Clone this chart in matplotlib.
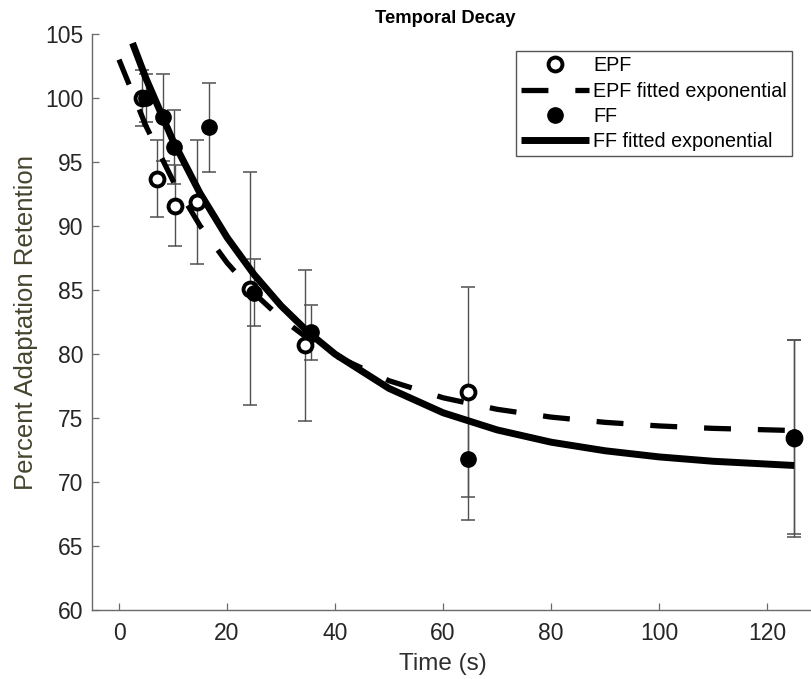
import matplotlib
matplotlib.use("Agg")
import matplotlib.pyplot as plt

plt.rcParams['font.family'] = ['Liberation Sans', 'DejaVu Sans']

# ---- data ----
epf_t = [4.2, 7.0, 10.4, 14.4, 24.3, 34.4, 64.6, 125.0]
epf_y = [100.0, 93.7, 91.6, 91.9, 85.1, 80.7, 77.0, 73.4]
epf_err = [2.2, 3.0, 3.2, 4.85, 9.1, 5.9, 8.2, 7.7]

ff_t = [5.0, 8.1, 10.2, 16.7, 25.0, 35.5, 64.6, 125.0]
ff_y = [100.0, 98.5, 96.2, 97.7, 84.8, 81.7, 71.8, 73.5]
ff_err = [1.9, 3.4, 2.9, 3.5, 2.65, 2.15, 4.8, 7.6]

# fitted exponential curves
epf_fit_t = [0, 5, 10, 15, 20, 25, 30, 35, 40, 50, 60, 70, 80, 90, 100, 110, 125]
epf_fit_y = [103.0, 97.8, 93.53, 90.02, 87.13, 84.75, 82.8, 81.2, 79.88, 77.91,
             76.58, 75.68, 75.07, 74.66, 74.38, 74.19, 74.02]

ff_fit_t = [2.5, 5, 10, 15, 20, 25, 30, 35, 40, 50, 60, 70, 80, 90, 100, 110, 125]
ff_fit_y = [104.29, 101.52, 96.65, 92.56, 89.11, 86.21, 83.77, 81.72, 79.99, 77.31,
            75.41, 74.07, 73.11, 72.44, 71.96, 71.62, 71.29]

x_ticks = [0, 20, 40, 60, 80, 100, 120]
y_ticks = [60, 65, 70, 75, 80, 85, 90, 95, 100, 105]

# ---- figure ----
W, H = 812, 679
fig = plt.figure(figsize=(W / 100, H / 100), dpi=100)
ax = fig.add_axes([92 / W, 1 - 610 / H, (812 - 92) / W, (610 - 34) / H])

err_col = '#505050'
ax.errorbar(epf_t, epf_y, yerr=epf_err, fmt='none', ecolor=err_col,
            elinewidth=1.0, capsize=5.2, capthick=1.1, zorder=2)
ax.errorbar(ff_t, ff_y, yerr=ff_err, fmt='none', ecolor=err_col,
            elinewidth=1.0, capsize=5.2, capthick=1.1, zorder=2)

h1, = ax.plot(epf_t, epf_y, linestyle='none', marker='o', markersize=10,
              markerfacecolor='white', markeredgecolor='black',
              markeredgewidth=2.8, zorder=4, label='EPF')
h2, = ax.plot(epf_fit_t, epf_fit_y, color='black', linewidth=3.8,
              linestyle=(0, (5.1, 5.1)), dash_capstyle='butt', zorder=3,
              label='EPF fitted exponential')
h3, = ax.plot(ff_t, ff_y, linestyle='none', marker='o', markersize=11,
              markerfacecolor='black', markeredgecolor='black',
              markeredgewidth=1.0, zorder=5, label='FF')
h4, = ax.plot(ff_fit_t, ff_fit_y, color='black', linewidth=5.0,
              solid_capstyle='butt', zorder=3, label='FF fitted exponential')

ax.set_xlim(-5, 128.3)
ax.set_ylim(60, 105)
ax.set_xticks(x_ticks)
ax.set_yticks(y_ticks)

spine_col = '#6a6a6a'
for s in ['top', 'right']:
    ax.spines[s].set_visible(False)
for s in ['left', 'bottom']:
    ax.spines[s].set_color(spine_col)
    ax.spines[s].set_linewidth(1.0)

ax.tick_params(direction='in', length=5, width=0.9, color=spine_col,
               labelsize=16.5, labelcolor='#262626')
ax.tick_params(axis='x', pad=8.5)
ax.tick_params(axis='y', pad=6)

ax.set_xlabel('Time (s)', fontsize=17.5, color='#2e2e2e', labelpad=7)
ax.xaxis.set_label_coords(0.488, -0.075)
ax.set_ylabel('Percent Adaptation Retention', fontsize=18.5, color='#45452f',
              labelpad=5)
ax.set_title('Temporal Decay', fontsize=13.2, fontweight='bold',
             color='black', x=0.49, pad=8)

leg = ax.legend(handles=[h1, h2, h3, h4], loc='upper right',
                bbox_to_anchor=(0.972, 0.970), borderaxespad=0,
                fontsize=14.2, frameon=True, fancybox=False, framealpha=1,
                edgecolor='#555555', handlelength=3.45, handletextpad=0.2,
                labelspacing=0.32, borderpad=0.25, numpoints=1)
leg.get_frame().set_linewidth(1.0)

fig.savefig('out.png', dpi=100)
